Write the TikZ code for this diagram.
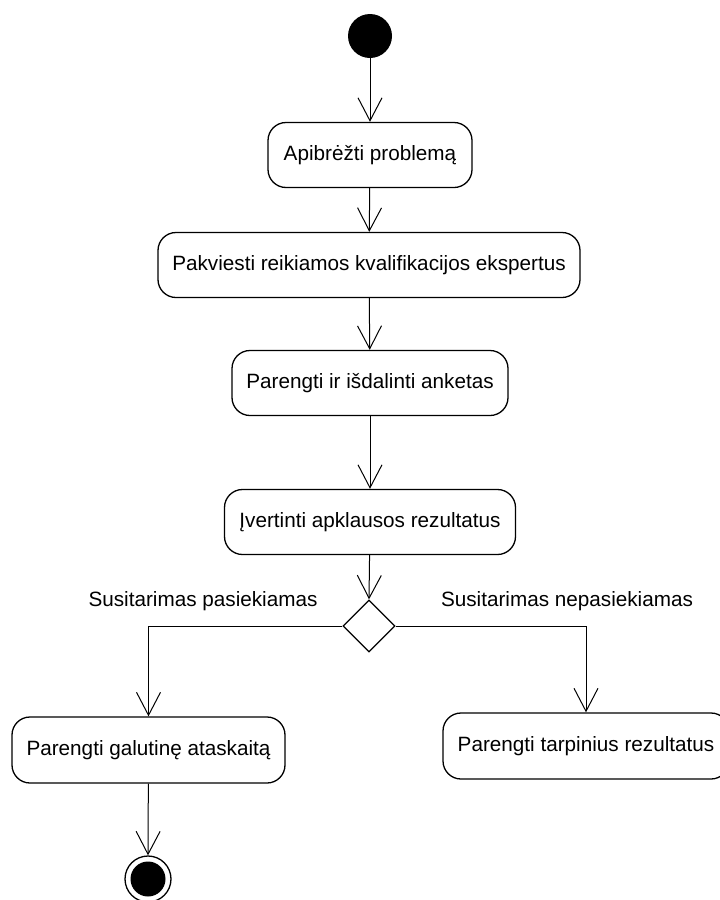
\documentclass[tikz,border=0pt]{standalone}
\usepackage{fontspec}
\setmainfont{Liberation Sans}
\usetikzlibrary{arrows.meta,shapes.geometric}

\tikzset{
  action/.style={draw, line width=1.3pt, rounded corners=18pt, minimum height=65pt,
    inner sep=0pt, font=\fontsize{20.7}{24}\selectfont},
  flow/.style={draw, line width=1pt,
    -{Straight Barb[length=23pt, width=24pt, line width=1pt]}},
  guard/.style={font=\fontsize{20.7}{24}\selectfont, inner sep=0pt},
}

\begin{document}
\begin{tikzpicture}[x=1pt, y=-1pt]
  \useasboundingbox (0,0) rectangle (720,900);

  % initial state
  \node[circle, fill=black, minimum size=44pt, inner sep=0pt] (start) at (370,36) {};

  % activities
  \node[action, minimum width=204pt] (a1) at (370,155) {Apibrėžti problemą};
  \node[action, minimum width=422pt] (a2) at (369,265) {Pakviesti reikiamos kvalifikacijos ekspertus};
  \node[action, minimum width=276pt] (a3) at (370,383) {Parengti ir išdalinti anketas};
  \node[action, minimum width=291pt] (a4) at (370,522) {Įvertinti apklausos rezultatus};

  % decision
  \node[diamond, draw, line width=1.3pt, minimum width=52pt, minimum height=52pt,
        inner sep=0pt] (dec) at (369,626) {};

  \node[action, minimum width=273pt, minimum height=66pt] (a5) at (148.5,750) {Parengti galutinę ataskaitą};
  \node[action, minimum width=286pt, minimum height=66pt] (a6) at (586,746) {Parengti tarpinius rezultatus};

  % final state
  \node[circle, draw, line width=1.3pt, minimum size=46pt, inner sep=0pt] (end) at (148,879) {};
  \node[circle, fill=black, minimum size=35pt, inner sep=0pt] (endin) at (end.center) {};

  % guards
  \node[guard] (g1) at (203,601) {Susitarimas pasiekiamas};
  \node[guard] (g2) at (567,601) {Susitarimas nepasiekiamas};

  % control flow
  \draw[flow] (start) -- (a1);
  \draw[flow] (a1) -- (a2);
  \draw[flow] (a2) -- (a3);
  \draw[flow] (a3) -- (a4);
  \draw[flow] (a4) -- (dec.north);
  \draw[flow] (dec.west) -| (a5.north);
  \draw[flow] (dec.east) -| (a6.north);
  \draw[flow] (a5) -- (end.north);
\end{tikzpicture}
\end{document}
